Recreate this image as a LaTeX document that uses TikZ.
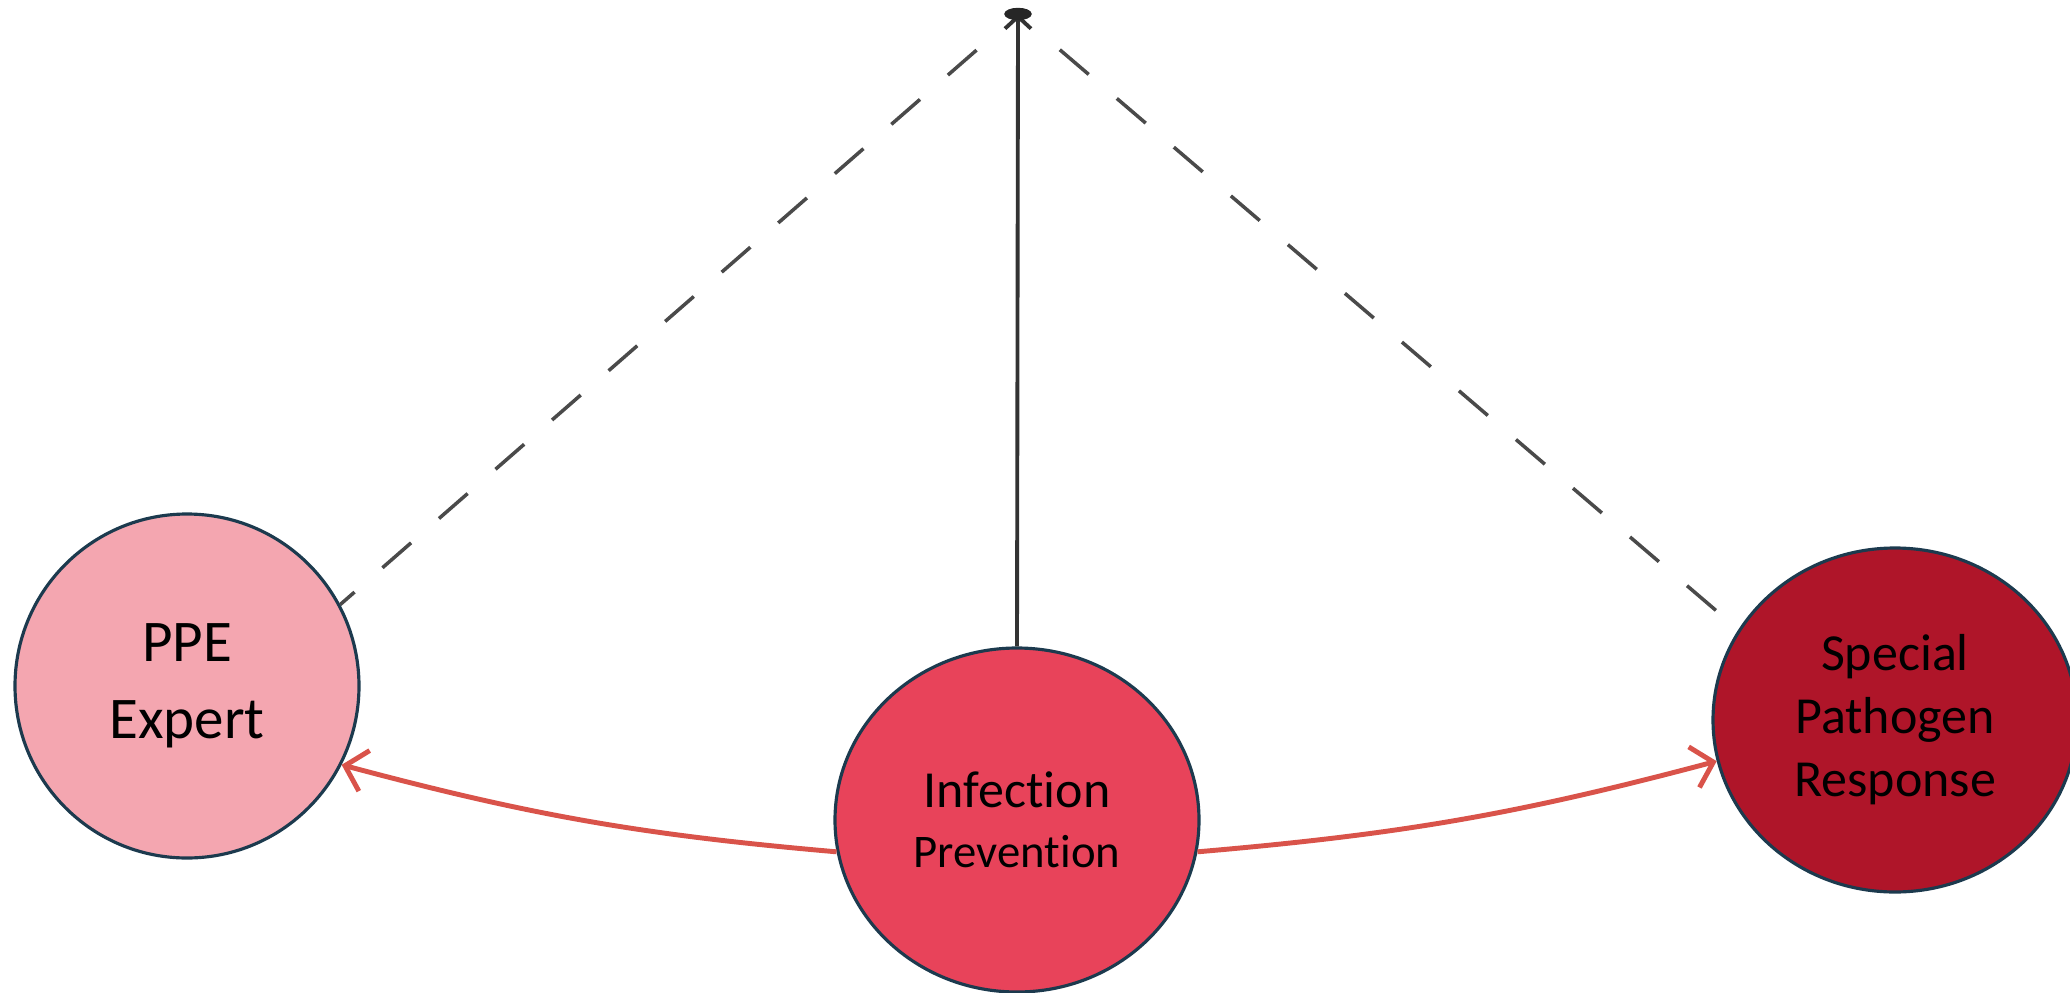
\documentclass[tikz,border=0pt]{standalone}
\usepackage{fontspec}
\setmainfont{Carlito}[Ligatures=NoCommon]
\usetikzlibrary{shapes.geometric,arrows.meta}

\definecolor{ppepink}{HTML}{F4A6B0}
\definecolor{infred}{HTML}{E8435A}
\definecolor{sprred}{HTML}{AF1529}
\definecolor{rimblue}{HTML}{1C3A4E}
\definecolor{linkred}{HTML}{D9534A}
\definecolor{dashgray}{HTML}{4A4A4A}

\begin{document}
\begin{tikzpicture}[%
      bubble/.style={ellipse, draw=rimblue, line width=0.9pt, inner sep=0pt,
        align=center, minimum width=3.64cm, minimum height=3.44cm},
      link/.style={color=linkred, line width=1.4pt,
        -{Straight Barb[length=0.2cm,width=0.42cm]}},
      guide/.style={color=dashgray, line width=1pt,
        dash pattern=on 0.38cm off 0.37cm, dash phase=0.38cm, shorten <=0.18cm},
      ]
      \useasboundingbox (0,0) rectangle (20.7,9.92);
      \coordinate (top) at (10.18,9.78);

      \node [bubble, fill=ppepink, minimum width=3.44cm,
        font=\fontsize{16.8pt}{21.9pt}\selectfont] (ppe) at (1.87,3.06) {PPE\\Expert};
      \node [bubble, fill=infred, font=\fontsize{14.8pt}{17.1pt}\selectfont] (inf) at (10.17,1.72)
        {Infection\\{\fontsize{13.3pt}{17.1pt}\selectfont Prevention}};
      \node [bubble, fill=sprred, font=\fontsize{14.8pt}{17.9pt}\selectfont]
        (spr) at (18.95,2.72) {Special\\Pathogen\\Response};

      \draw [color=black!80, line width=1.1pt, -{Straight Barb[length=0.12cm,width=0.26cm]}] (inf.north) -- (top);
      \filldraw [color=black!85] (top) ellipse (0.13 and 0.055);

      \draw [guide] (top) -- (ppe.28);
      \draw [guide] (top) -- (spr.150);

      \draw [link] (inf.190) to[bend left=5] (ppe.-27);
      \draw [link] (inf.-10) to[bend right=5] (spr.193);
\end{tikzpicture}
\end{document}
